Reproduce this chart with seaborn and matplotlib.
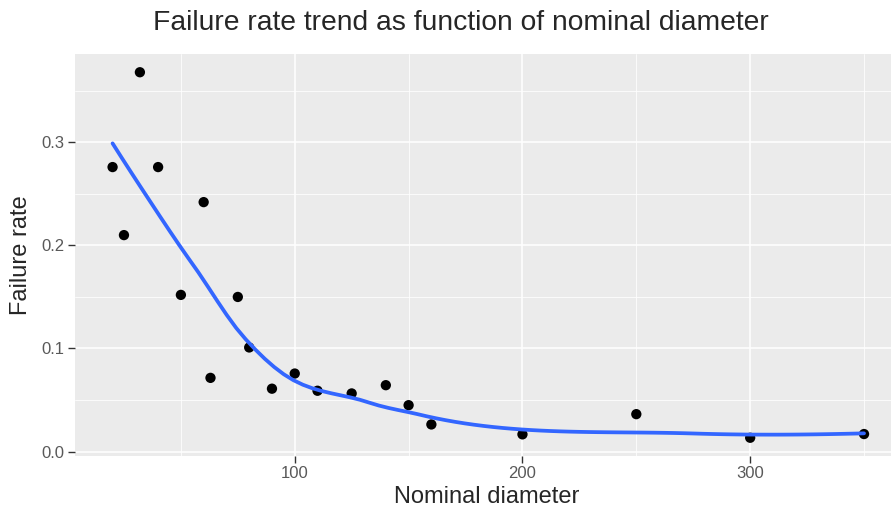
import numpy as np
import pandas as pd
import seaborn as sns
import matplotlib.pyplot as plt
from matplotlib.ticker import MultipleLocator

diameter = [20, 25, 32, 40, 50, 60, 63, 75, 80, 90, 100, 110, 125, 140, 150, 160, 200, 250, 300, 350]
failure_rate = [0.276, 0.210, 0.368, 0.276, 0.152, 0.242, 0.0715, 0.150, 0.101, 0.061,
                0.0757, 0.059, 0.0564, 0.0644, 0.045, 0.0263, 0.0167, 0.0363, 0.0134, 0.017]

df = pd.DataFrame({"diameter": diameter, "rate": failure_rate})


# local quadratic fit with tricube weights (span 0.75), returns value and slope
def local_fit(x, y, g, span=0.75):
    q = int(np.floor(span * len(x)))
    d = np.abs(x - g)
    h = np.sort(d)[q - 1]
    w = np.clip(1 - (d / h) ** 3, 0, None) ** 3
    X = np.column_stack([np.ones_like(x), x - g, (x - g) ** 2])
    W = np.diag(w)
    beta = np.linalg.solve(X.T @ W @ X, X.T @ W @ y)
    return beta[0], beta[1]


# R-style loess: fit at kd-tree vertices, cubic hermite in between
def loess(x, y, grid, span=0.75, cell=0.2):
    x = np.asarray(x, float)
    y = np.asarray(y, float)
    xs = np.sort(x)
    fc = int(np.floor(len(x) * span * cell))
    mu = 0.005 * (xs[-1] - xs[0])
    verts = [xs[0] - mu, xs[-1] + mu]

    def split(lo, hi):
        if hi - lo + 1 <= fc:
            return
        m = (lo + hi) // 2
        verts.append((xs[m] + xs[m + 1]) / 2)
        split(lo, m)
        split(m + 1, hi)

    split(0, len(xs) - 1)
    verts = np.array(sorted(set(verts)))
    fits = np.array([local_fit(x, y, v, span) for v in verts])
    out = []
    for g in grid:
        i = min(np.searchsorted(verts, g, side="right") - 1, len(verts) - 2)
        x0, x1 = verts[i], verts[i + 1]
        hh = x1 - x0
        t = (g - x0) / hh
        v0, s0 = fits[i]
        v1, s1 = fits[i + 1]
        h00 = 2 * t**3 - 3 * t**2 + 1
        h10 = t**3 - 2 * t**2 + t
        h01 = -2 * t**3 + 3 * t**2
        h11 = t**3 - t**2
        out.append(h00 * v0 + h10 * hh * s0 + h01 * v1 + h11 * hh * s1)
    return np.array(out)


grid = np.linspace(min(diameter), max(diameter), 80)
smooth = pd.DataFrame({"diameter": grid, "rate": loess(diameter, failure_rate, grid)})

sns.set_theme(style="darkgrid", rc={
    "axes.facecolor": "#EBEBEB",
    "grid.color": "white",
    "axes.edgecolor": "#EBEBEB",
})
plt.rcParams["font.family"] = ["Liberation Sans", "DejaVu Sans"]

fig = plt.figure(figsize=(8.91, 5.08), dpi=100)
ax = fig.add_axes([75 / 891, 52 / 508, 826.6 / 891, 402 / 508])

sns.scatterplot(data=df, x="diameter", y="rate", color="black", s=55, edgecolor="none", ax=ax, zorder=3)
sns.lineplot(data=smooth, x="diameter", y="rate", color="#3366FF", linewidth=2.7, ax=ax, zorder=4)

ax.set_xlim(3.5, 366.5)
ax.set_ylim(-0.0043, 0.3857)
ax.xaxis.set_major_locator(MultipleLocator(100))
ax.xaxis.set_minor_locator(MultipleLocator(50))
ax.yaxis.set_major_locator(MultipleLocator(0.1))
ax.yaxis.set_minor_locator(MultipleLocator(0.05))
ax.yaxis.set_major_formatter(lambda v, p: f"{v:.1f}")
ax.grid(which="major", color="white", linewidth=1.1)
ax.grid(which="minor", color="white", linewidth=0.55)
ax.tick_params(which="major", bottom=True, left=True, length=5, width=1.0, color="#333333",
               labelsize=12, labelcolor="#595959", pad=2.5)
ax.tick_params(which="minor", length=0)
for s in ax.spines.values():
    s.set_visible(False)

ax.set_xlabel("")
ax.set_ylabel("")
fig.text(487 / 891, 1 - 497 / 508, "Nominal diameter", ha="center", va="center", fontsize=17)
fig.text(21 / 891, 1 - 255 / 508, "Failure rate", ha="center", va="center", rotation=90, fontsize=17)
fig.text(461 / 891, 1 - 23 / 508, "Failure rate trend as function of nominal diameter",
         ha="center", va="center", fontsize=20.3)

fig.savefig("out.png", dpi=100)
